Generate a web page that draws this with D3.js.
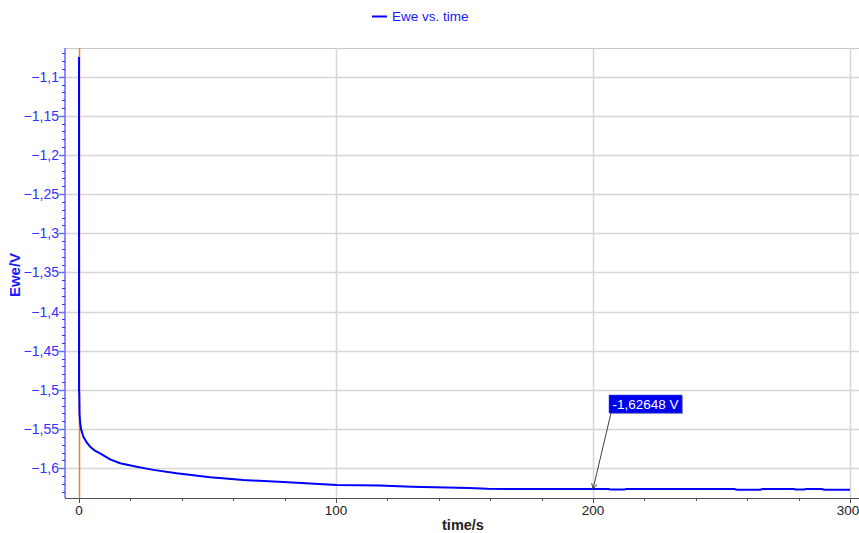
<!DOCTYPE html>
<html>
<head>
<meta charset="utf-8">
<script src="https://cdn.jsdelivr.net/npm/d3@7"></script>
<style>
  html, body { margin: 0; padding: 0; background: #ffffff; }
  svg { display: block; font-family: "Liberation Sans", Arial, sans-serif; }
</style>
</head>
<body>
<svg id="chart" width="859" height="533"></svg>
<script>
// Electrode potential (Ewe) recorded against time
const timeS = [0, 0.02, 0.1, 0.2, 0.4, 0.8, 1.7, 3, 4.3, 6, 8.2, 12.1, 16, 22.4, 28.9, 38, 51, 64, 79.5, 100.3,
  117, 129.4, 151.5, 159, 200, 206, 207, 212, 213, 255, 256, 265, 266, 278, 279, 282, 283, 289, 290, 300];
const eweV = [-1.075, -1.5, -1.505, -1.53, -1.54, -1.55, -1.5597, -1.567, -1.5724, -1.577, -1.5808, -1.5885,
  -1.5936, -1.598, -1.602, -1.6064, -1.6115, -1.615, -1.6175, -1.6213,
  -1.6218, -1.6235, -1.625, -1.6262, -1.62648, -1.6265, -1.6272, -1.6272, -1.6265, -1.6265, -1.6273, -1.6273,
  -1.6265, -1.6265, -1.627, -1.627, -1.6265, -1.6265, -1.6273, -1.6273];

const xMajorTicks = [0, 100, 200, 300];
const yMajorTicks = [-1.1, -1.15, -1.2, -1.25, -1.3, -1.35, -1.4, -1.45, -1.5, -1.55, -1.6];

const seriesName = "Ewe vs. time";
const xTitle = "time/s";
const yTitle = "Ewe/V";

// Cursor readout
const cursorTime = 200;
const cursorValue = -1.62648;
const cursorLabel = "-1,62648 V";
const markerTime = 0;

(function draw() {
  const locale = d3.formatLocale({ decimal: ",", thousands: ".", grouping: [3], currency: ["", ""] });
  const fmtY = v => locale.format("")(+v.toFixed(2));

  const svg = d3.select("#chart");
  const pLeft = 65, pRight = 859, pTop = 48, pBottom = 498;

  const x = d3.scaleLinear().domain([-5.45, 303.5]).range([pLeft, pRight]);
  const y = d3.scaleLinear().domain([-1.6379, -1.0634]).range([pBottom, pTop]);

  // Plot frame top edge
  svg.append("line").attr("x1", pLeft).attr("x2", pRight).attr("y1", pTop + 0.5).attr("y2", pTop + 0.5)
    .attr("stroke", "#c8c8c8").attr("stroke-width", 1);

  // Horizontal grid
  svg.append("g").selectAll("line").data(yMajorTicks).join("line")
    .attr("x1", pLeft).attr("x2", pRight)
    .attr("y1", d => Math.round(y(d)) + 0.5).attr("y2", d => Math.round(y(d)) + 0.5)
    .attr("stroke", "#d6d6d6").attr("stroke-width", 1.5);

  // Vertical grid
  svg.append("g").selectAll("line").data(xMajorTicks.filter(d => d !== 0)).join("line")
    .attr("x1", d => Math.round(x(d)) + 0.5).attr("x2", d => Math.round(x(d)) + 0.5)
    .attr("y1", pTop).attr("y2", pBottom)
    .attr("stroke", "#d6d6d6").attr("stroke-width", 1.5);

  // X axis
  const xMinor = d3.range(0, 301, 20);
  const xAxisG = svg.append("g");
  xAxisG.append("line").attr("x1", pLeft).attr("x2", pRight).attr("y1", pBottom + 0.5).attr("y2", pBottom + 0.5)
    .attr("stroke", "#505050").attr("stroke-width", 1);
  xAxisG.selectAll("line.minor").data(xMinor).join("line").attr("class", "minor")
    .attr("x1", d => Math.round(x(d)) + 0.5).attr("x2", d => Math.round(x(d)) + 0.5)
    .attr("y1", pBottom).attr("y2", d => xMajorTicks.includes(d) ? pBottom + 5 : pBottom + 3)
    .attr("stroke", "#505050");
  xAxisG.selectAll("text").data(xMajorTicks).join("text")
    .attr("x", d => Math.min(x(d), pRight - 11)).attr("y", pBottom + 17)
    .attr("text-anchor", "middle").attr("font-size", 13.5).attr("fill", "#222")
    .text(d => d);
  svg.append("text").attr("x", 463).attr("y", 530).attr("text-anchor", "middle")
    .attr("font-size", 14.5).attr("font-weight", "bold").attr("fill", "#222").text(xTitle);

  // Y axis
  const yMinor = d3.range(-1.63, -1.069, 0.01).map(v => +v.toFixed(2));
  const yAxisG = svg.append("g");
  yAxisG.append("line").attr("x1", pLeft).attr("x2", pLeft).attr("y1", pTop).attr("y2", pBottom)
    .attr("stroke", "#8c8cff").attr("stroke-width", 2);
  yAxisG.selectAll("line.minor").data(yMinor).join("line").attr("class", "minor")
    .attr("x1", pLeft - 3).attr("x2", pLeft)
    .attr("y1", d => Math.round(y(d)) + 0.5).attr("y2", d => Math.round(y(d)) + 0.5)
    .attr("stroke", "#3030ff");
  yAxisG.selectAll("line.major").data(yMajorTicks).join("line").attr("class", "major")
    .attr("x1", pLeft - 6).attr("x2", pLeft)
    .attr("y1", d => Math.round(y(d)) + 0.5).attr("y2", d => Math.round(y(d)) + 0.5)
    .attr("stroke", "#6a6aff").attr("stroke-width", 1.5);
  yAxisG.selectAll("text").data(yMajorTicks).join("text")
    .attr("x", pLeft - 6).attr("y", d => y(d) + 5)
    .attr("text-anchor", "end").attr("font-size", 14).attr("fill", "#3030ff")
    .text(d => fmtY(d));
  svg.append("text").attr("transform", "translate(20,275) rotate(-90)").attr("text-anchor", "middle")
    .attr("font-size", 15).attr("font-weight", "bold").attr("fill", "#1a1aff").text(yTitle);

  // Time marker
  svg.append("line").attr("x1", Math.round(x(markerTime)) + 0.5).attr("x2", Math.round(x(markerTime)) + 0.5)
    .attr("y1", pTop).attr("y2", pBottom).attr("stroke", "#f08020").attr("stroke-width", 1.5);

  // Series
  const pts = timeS.map((t, i) => [t, eweV[i]]);
  svg.append("path").datum(pts)
    .attr("fill", "none").attr("stroke", "#0000ff").attr("stroke-width", 2)
    .attr("stroke-linejoin", "round")
    .attr("d", d3.line().x(d => x(d[0])).y(d => y(d[1])));

  // Legend
  svg.append("line").attr("x1", 372).attr("x2", 387).attr("y1", 16.5).attr("y2", 16.5)
    .attr("stroke", "#0000ff").attr("stroke-width", 2);
  svg.append("text").attr("x", 392).attr("y", 21).attr("font-size", 13.5).attr("fill", "#1a1aff").text(seriesName);

  // Cursor readout label with pointer
  const px = x(cursorTime), py = y(cursorValue);
  const bx = 609, by = 395, bw = 73, bh = 18;
  svg.append("rect").attr("x", bx + 1).attr("y", by + 1).attr("width", bw).attr("height", bh).attr("fill", "#a0a0a0");
  svg.append("rect").attr("x", bx).attr("y", by).attr("width", bw).attr("height", bh)
    .attr("fill", "#0000f0").attr("stroke", "#4040ff").attr("stroke-width", 0.5);
  svg.append("text").attr("x", bx + bw / 2).attr("y", by + 14).attr("text-anchor", "middle")
    .attr("font-size", 13.5).attr("fill", "#ffffff").text(cursorLabel);
  const sx = bx + 2, sy = by + bh;
  svg.append("line").attr("x1", sx).attr("y1", sy).attr("x2", px).attr("y2", py)
    .attr("stroke", "#404040").attr("stroke-width", 1);
  const ang = Math.atan2(py - sy, px - sx);
  const ah = 6, aw = 0.45;
  svg.append("path")
    .attr("d", `M${px - ah * Math.cos(ang - aw)},${py - ah * Math.sin(ang - aw)} L${px},${py} L${px - ah * Math.cos(ang + aw)},${py - ah * Math.sin(ang + aw)}`)
    .attr("fill", "none").attr("stroke", "#404040").attr("stroke-width", 1);
})();
</script>
</body>
</html>
